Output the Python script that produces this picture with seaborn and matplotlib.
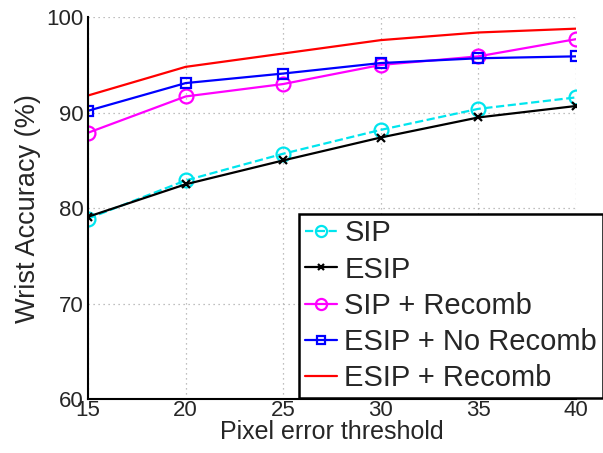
import matplotlib
matplotlib.use("Agg")
import matplotlib.pyplot as plt
import seaborn as sns
import pandas as pd

thresholds = [15, 20, 25, 30, 35, 40]
sip = [78.9, 82.9, 85.7, 88.2, 90.4, 91.6]
esip = [79.1, 82.5, 85.0, 87.4, 89.5, 90.7]
sip_recomb = [87.9, 91.7, 93.0, 95.0, 95.9, 97.7]
esip_norecomb = [90.2, 93.1, 94.1, 95.2, 95.7, 95.9]
esip_recomb = [91.8, 94.8, 96.2, 97.6, 98.4, 98.8]

series_names = ["SIP", "ESIP", "SIP + Recomb", "ESIP + No Recomb", "ESIP + Recomb"]
series_vals = [sip, esip, sip_recomb, esip_norecomb, esip_recomb]
colors = ["#00e5ee", "#000000", "#ff00ff", "#0000ff", "#ff0000"]
markers = ["o", "x", "o", "s", None]
linestyles = ["--", "-", "-", "-", "-"]
msizes = [10, 6, 10, 7.5, 0]

sns.set_style("white")
plt.rcParams["font.family"] = ["Liberation Sans", "DejaVu Sans"]

fig = plt.figure(figsize=(6.03, 4.53), dpi=100)
ax = fig.add_axes([0.146, 0.119, 0.809, 0.843])

for name, vals, c, m, ls, ms in zip(series_names, series_vals, colors, markers, linestyles, msizes):
    df = pd.DataFrame({"x": thresholds, "y": vals})
    kw = dict(color=c, linestyle=ls, linewidth=1.6, label=name, ax=ax)
    if m is not None:
        kw.update(marker=m, markersize=ms, markeredgewidth=1.6)
        if m in ("o", "s"):
            kw.update(markerfacecolor="none", markeredgecolor=c)
        else:
            kw.update(markeredgecolor=c)
    sns.lineplot(data=df, x="x", y="y", **kw)

ax.set_xlim(15, 40)
ax.set_ylim(60, 100)
ax.set_xticks(thresholds)
ax.set_yticks([60, 70, 80, 90, 100])
ax.tick_params(axis="both", direction="in", labelsize=16, length=4)
ax.tick_params(axis="x", pad=1)
ax.tick_params(axis="y", pad=3)
ax.grid(True, linestyle=(0, (1, 3)), color="#aaaaaa", linewidth=0.9)
ax.set_xlabel("Pixel error threshold", fontsize=18, labelpad=-1)
ax.set_ylabel("Wrist Accuracy (%)", fontsize=19.5, labelpad=4)
for s in ["top", "right"]:
    ax.spines[s].set_visible(False)
for s in ["left", "bottom"]:
    ax.spines[s].set_color("black")
    ax.spines[s].set_linewidth(1.5)

leg = ax.legend(loc="lower left", bbox_to_anchor=(299 / 603, (453 - 398) / 453), bbox_transform=fig.transFigure,
                fontsize=21, frameon=True, fancybox=False, shadow=False,
                handlelength=1.1, handletextpad=0.25, borderpad=0.2, labelspacing=0.28,
                borderaxespad=0, framealpha=1, markerscale=0.8)
leg.get_frame().set_edgecolor("black")
leg.get_frame().set_linewidth(1.8)

fig.savefig("out.png", dpi=100)
